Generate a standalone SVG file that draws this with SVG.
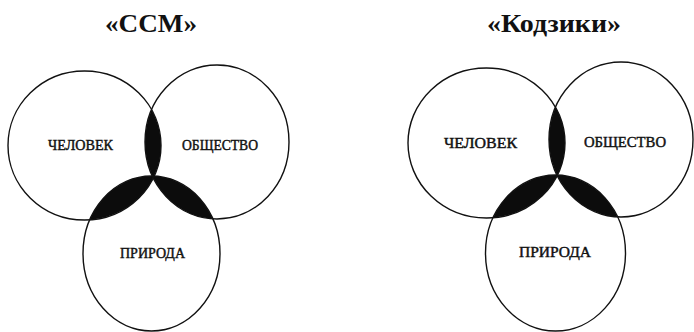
<svg xmlns="http://www.w3.org/2000/svg" width="694" height="332" viewBox="0 0 694 332">
  <style>
    .ring { fill: none; stroke: #111; stroke-width: 1.4; }
    .lens { fill: #0c0c0c; }
    .title { font-family: "Liberation Serif", "Times New Roman", serif; font-weight: bold; font-size: 25px; fill: #111; text-anchor: middle; }
    .label { font-family: "Liberation Serif", "Times New Roman", serif; font-size: 15px; fill: #111; text-anchor: middle; stroke: #111; stroke-width: 0.45; }
  </style>
  <defs>
    <!-- left diagram circles -->
    <clipPath id="clipA1"><ellipse cx="84.5" cy="145.5" rx="76.5" ry="74.5"/></clipPath>
    <clipPath id="clipA2"><ellipse cx="217" cy="142" rx="72" ry="77"/></clipPath>
    <!-- right diagram circles -->
    <clipPath id="clipB1"><ellipse cx="486.5" cy="143" rx="78.5" ry="75"/></clipPath>
    <clipPath id="clipB2"><ellipse cx="621" cy="139.5" rx="72" ry="77.5"/></clipPath>
  </defs>

  <rect width="694" height="332" fill="#fff"/>

  <text class="title" x="151" y="32" textLength="92" lengthAdjust="spacingAndGlyphs">«ССМ»</text>
  <text class="title" x="554" y="32" textLength="134" lengthAdjust="spacingAndGlyphs">«Кодзики»</text>

  <!-- shaded overlaps -->
  <g id="overlaps">
    <ellipse class="lens" cx="217" cy="142" rx="72" ry="77" clip-path="url(#clipA1)"/>
    <ellipse class="lens" cx="151.5" cy="253.5" rx="68.5" ry="77.5" clip-path="url(#clipA1)"/>
    <ellipse class="lens" cx="151.5" cy="253.5" rx="68.5" ry="77.5" clip-path="url(#clipA2)"/>
    <ellipse class="lens" cx="621" cy="139.5" rx="72" ry="77.5" clip-path="url(#clipB1)"/>
    <ellipse class="lens" cx="555.5" cy="253" rx="70" ry="78" clip-path="url(#clipB1)"/>
    <ellipse class="lens" cx="555.5" cy="253" rx="70" ry="78" clip-path="url(#clipB2)"/>
  </g>

  <g id="ssm-chelovek">
    <ellipse class="ring" cx="84.5" cy="145.5" rx="76.5" ry="74.5"/>
    <text class="label" x="80.5" y="150" textLength="65" lengthAdjust="spacingAndGlyphs">ЧЕЛОВЕК</text>
  </g>
  <g id="ssm-obshchestvo">
    <ellipse class="ring" cx="217" cy="142" rx="72" ry="77"/>
    <text class="label" x="220" y="150" textLength="76" lengthAdjust="spacingAndGlyphs">ОБЩЕСТВО</text>
  </g>
  <g id="ssm-priroda">
    <ellipse class="ring" cx="151.5" cy="253.5" rx="68.5" ry="77.5"/>
    <text class="label" x="152.5" y="258" textLength="65" lengthAdjust="spacingAndGlyphs">ПРИРОДА</text>
  </g>

  <g id="kojiki-chelovek">
    <ellipse class="ring" cx="486.5" cy="143" rx="78.5" ry="75"/>
    <text class="label" x="480.5" y="148" textLength="73" lengthAdjust="spacingAndGlyphs">ЧЕЛОВЕК</text>
  </g>
  <g id="kojiki-obshchestvo">
    <ellipse class="ring" cx="621" cy="139.5" rx="72" ry="77.5"/>
    <text class="label" x="625" y="147" textLength="82" lengthAdjust="spacingAndGlyphs">ОБЩЕСТВО</text>
  </g>
  <g id="kojiki-priroda">
    <ellipse class="ring" cx="555.5" cy="253" rx="70" ry="78"/>
    <text class="label" x="555" y="257" textLength="72" lengthAdjust="spacingAndGlyphs">ПРИРОДА</text>
  </g>

  <g id="connectors"/>
</svg>
